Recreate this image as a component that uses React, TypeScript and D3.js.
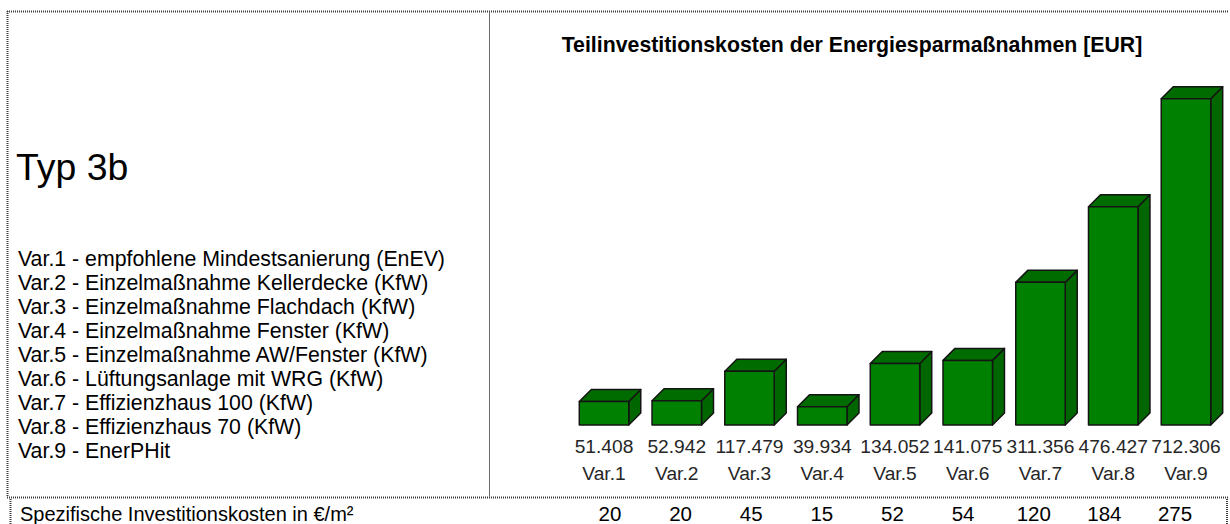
import React from "react";
import * as d3 from "d3";

const categories = ["Var.1", "Var.2", "Var.3", "Var.4", "Var.5", "Var.6", "Var.7", "Var.8", "Var.9"];
const costs = [51408, 52942, 117479, 39934, 134052, 141075, 311356, 476427, 712306];
const specificCosts = [20, 20, 45, 15, 52, 54, 120, 184, 275];
const descriptions = [
  "Var.1 - empfohlene Mindestsanierung (EnEV)",
  "Var.2 - Einzelmaßnahme Kellerdecke (KfW)",
  "Var.3 - Einzelmaßnahme Flachdach (KfW)",
  "Var.4 - Einzelmaßnahme Fenster (KfW)",
  "Var.5 - Einzelmaßnahme AW/Fenster (KfW)",
  "Var.6 - Lüftungsanlage mit WRG (KfW)",
  "Var.7 - Effizienzhaus 100 (KfW)",
  "Var.8 - Effizienzhaus 70 (KfW)",
  "Var.9 - EnerPHit",
];
const typeLabel = "Typ 3b";
const chartTitle = "Teilinvestitionskosten der Energiesparmaßnahmen [EUR]";
const rowLabel = "Spezifische Investitionskosten in €/m²";

const W = 1230;
const H = 524;
const FONT = "'Liberation Sans', Arial, Helvetica, sans-serif";
const DEPTH = 12;

const deLocale = d3.formatLocale({ decimal: ",", thousands: ".", grouping: [3], currency: ["", " €"] });
const fmt = deLocale.format(",d");

export default function App() {
  const x = d3.scaleBand<string>().domain(categories).range([579.3, 1210.7]).paddingInner(0.32).paddingOuter(0);
  const y = d3.scaleLinear().domain([0, 712306]).range([425, 98.7]);
  const tableX = d3.scalePoint<string>().domain(categories).range([610, 1175]);
  const bw = x.bandwidth();
  const base = y(0);

  const line = d3.line<[number, number]>();

  return (
    <svg
      width={W}
      height={H}
      style={{ position: "absolute", left: 0, top: 0, display: "block", background: "#fff" }}
      fontFamily={FONT}
    >
      {/* frame */}
      <g fill="none" stroke="#3a3a3a" strokeWidth={2} strokeDasharray="1 1">
        <line x1={7} y1={11.5} x2={1228} y2={11.5} />
        <line x1={7.5} y1={11} x2={7.5} y2={497} />
        <line x1={7} y1={497.5} x2={1228} y2={497.5} />
        <line x1={10.5} y1={499} x2={10.5} y2={524} />
        <line x1={1227} y1={499} x2={1227} y2={524} />
      </g>
      <line x1={489.5} y1={12} x2={489.5} y2={497} stroke="#6a6a6a" strokeWidth={1} />

      {/* left panel */}
      <text x={16} y={180} fontSize={37.4} fill="#000">{typeLabel}</text>
      {descriptions.map((d, i) => (
        <text key={d} x={18} y={266 + i * 24.04} fontSize={21.3} fill="#000">{d}</text>
      ))}

      {/* title */}
      <text x={852} y={52} textAnchor="middle" fontSize={21.3} fontWeight="bold" fill="#000">{chartTitle}</text>

      {/* bars */}
      {categories.map((c, i) => {
        const x0 = x(c)!;
        const x1 = x0 + bw;
        const yt = y(costs[i]);
        const front = line([[x0, yt], [x1, yt], [x1, base], [x0, base]]) + "Z";
        const top = line([[x0, yt], [x0 + DEPTH, yt - DEPTH], [x1 + DEPTH, yt - DEPTH], [x1, yt]]) + "Z";
        const side = line([[x1, yt], [x1 + DEPTH, yt - DEPTH], [x1 + DEPTH, base - DEPTH], [x1, base]]) + "Z";
        return (
          <g key={c} stroke="#141414" strokeWidth={1.5} strokeLinejoin="round">
            <path d={side} fill="#006600" />
            <path d={top} fill="#006c00" />
            <path d={front} fill="#008000" />
          </g>
        );
      })}

      {/* value + category labels */}
      {categories.map((c, i) => {
        const cx = x(c)! + bw / 2;
        return (
          <g key={c} fill="#262626" fontSize={19.2} textAnchor="middle">
            <text x={cx} y={453}>{fmt(costs[i])}</text>
            <text x={cx} y={480}>{c}</text>
          </g>
        );
      })}

      {/* bottom table row */}
      <text x={20} y={521} fontSize={20} fill="#000">{rowLabel}</text>
      {categories.map((c, i) => (
        <text key={c} x={tableX(c)!} y={521} fontSize={20.5} textAnchor="middle" fill="#000">
          {specificCosts[i]}
        </text>
      ))}
    </svg>
  );
}
